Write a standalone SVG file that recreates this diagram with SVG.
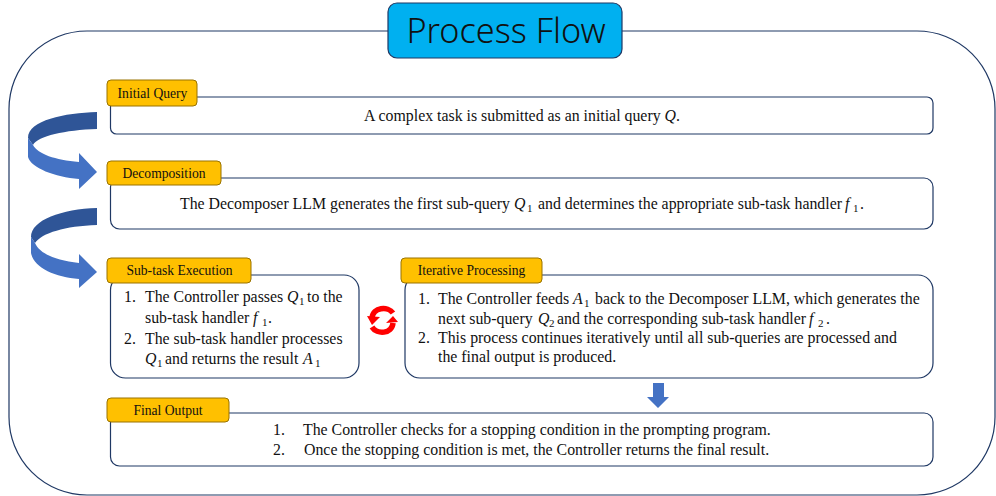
<svg xmlns="http://www.w3.org/2000/svg" width="996" height="496" viewBox="0 0 996 496">
<style>
.box{fill:#fff;stroke:#1f3864;stroke-width:1.2}
.lab{fill:#ffc000;stroke:#997300;stroke-width:1}
text{font-family:"Liberation Serif","Times New Roman",serif;fill:#111}
.t{font-size:15.850px}
.l{font-size:13.600px;text-anchor:middle}
.m{font-style:italic}
.s{font-size:11px}
.dark{fill:#2f5597}
.blue{fill:#4472c4}
</style>
<rect width="996" height="496" fill="#fff"/>
<rect id="frame" x="9" y="31" width="986" height="464" rx="78" fill="#fff" stroke="#1f3864" stroke-width="1.2"/>
<g id="title">
<rect x="388" y="3" width="234" height="55" rx="9" fill="#00b0f0" stroke="#1f3864" stroke-width="1.2"/>
<text x="506" y="43" text-anchor="middle" style="font-family:'Noto Sans','Open Sans',sans-serif;font-size:34.200px;font-weight:300">Process Flow</text>
</g>
<g id="connectors">
<path class="dark" d="M97 112C65 113 28 120 28 138L33 145C38 136 65 130 97 129Z"/>
<path class="blue" d="M28 138V157C31 168 55 177 79 179V189L97 172L79 153V162C55 160 38 154 33 145Z"/>
<path class="dark" d="M97 208C62 209 31 220 31 237L35 243C42 233 65 226 97 225Z"/>
<path class="blue" d="M31 237V253C34 268 55 277 79 279V288L97 272L79 254V263C55 260 40 254 35 243Z"/>
<path class="blue" d="M653 383H664V397H669L658 408L647 397H653Z"/>
<g id="cycle" fill="none" stroke="#ff0000" stroke-width="5.500">
<path d="M372 318C373 307 388 306 393 313"/>
<path d="M393 323C392 334 377 335 372 327"/>
</g>
<path d="M367 316L380 317L372 325ZM386 323L398 322L393 316Z" fill="#ff0000"/>
</g>
<g id="initial-query">
<rect class="box" x="110.500" y="97" width="822.500" height="37" rx="6"/>
<rect class="lab" x="107" y="80" width="90" height="26" rx="4"/>
<text class="l" x="152.500" y="98">Initial Query</text>
<text class="t" x="364" y="121">A complex task is submitted as an initial query <tspan class="m">Q</tspan>.</text>
</g>
<g id="decomposition">
<rect class="box" x="110.500" y="178" width="822.500" height="51" rx="9"/>
<rect class="lab" x="107" y="161" width="114" height="24" rx="4"/>
<text class="l" x="164" y="178">Decomposition</text>
<text class="t" y="209"><tspan x="180">The Decomposer LLM generates the first sub-query</tspan><tspan class="m" x="514">Q</tspan><tspan class="s" x="527" dy="3">1</tspan><tspan x="538" dy="-3">and determines the appropriate sub-task handler</tspan><tspan class="m" x="845">f</tspan><tspan class="s" x="853" dy="3">1</tspan><tspan x="860" dy="-3">.</tspan></text>
</g>
<g id="sub-task-execution">
<rect class="box" x="110.500" y="275" width="248.500" height="103" rx="15"/>
<rect class="lab" x="107" y="258" width="144" height="25" rx="4"/>
<text class="l" x="179.500" y="275">Sub-task Execution</text>
<text class="t" x="124" y="302">1.</text>
<text class="t" y="302"><tspan x="145">The Controller passes</tspan><tspan class="m" x="287">Q</tspan><tspan class="s" x="299" dy="3">1</tspan><tspan x="307" dy="-3">to the</tspan></text>
<text class="t" y="323"><tspan x="145">sub-task handler</tspan><tspan class="m" x="253">f</tspan><tspan class="s" x="262" dy="3">1</tspan><tspan x="268" dy="-3">.</tspan></text>
<text class="t" x="124" y="344">2.</text>
<text class="t" x="145" y="344">The sub-task handler processes</text>
<text class="t" y="364"><tspan class="m" x="145">Q</tspan><tspan class="s" x="157" dy="3">1</tspan><tspan x="165" dy="-3">and returns the result</tspan><tspan class="m" x="303">A</tspan><tspan class="s" x="315" dy="3">1</tspan></text>
</g>
<g id="iterative-processing">
<rect class="box" x="405" y="275" width="528" height="103" rx="15"/>
<rect class="lab" x="401" y="258" width="141" height="25" rx="4"/>
<text class="l" x="471.500" y="275">Iterative Processing</text>
<text class="t" x="418" y="304">1.</text>
<text class="t" y="304"><tspan x="438">The Controller feeds</tspan><tspan class="m" x="573">A</tspan><tspan class="s" x="584" dy="3">1</tspan><tspan x="595" dy="-3">back to the Decomposer LLM, which generates the</tspan></text>
<text class="t" y="324"><tspan x="438">next sub-query</tspan><tspan class="m" x="538">Q</tspan><tspan class="s" x="549" dy="3">2</tspan><tspan x="557" dy="-3">and the corresponding sub-task handler</tspan><tspan class="m" x="809">f</tspan><tspan class="s" x="818" dy="3">2</tspan><tspan x="826" dy="-3">.</tspan></text>
<text class="t" x="418" y="343">2.</text>
<text class="t" x="438" y="343">This process continues iteratively until all sub-queries are processed and</text>
<text class="t" x="438" y="362">the final output is produced.</text>
</g>
<g id="final-output">
<rect class="box" x="110.500" y="413" width="822.500" height="53" rx="9"/>
<rect class="lab" x="107" y="398" width="122" height="24" rx="4"/>
<text class="l" x="168" y="415">Final Output</text>
<text class="t" x="273" y="435">1.</text>
<text class="t" x="303" y="435">The Controller checks for a stopping condition in the prompting program.</text>
<text class="t" x="273" y="455">2.</text>
<text class="t" x="304" y="455">Once the stopping condition is met, the Controller returns the final result.</text>
</g>
</svg>
